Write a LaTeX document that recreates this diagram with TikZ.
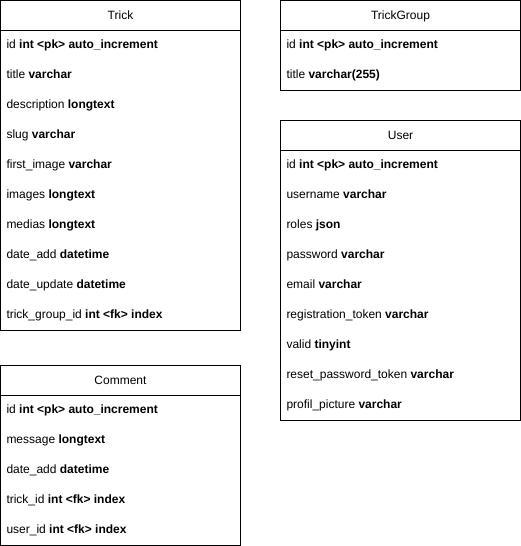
\documentclass[tikz,border=0pt]{standalone}
\usepackage{fontspec}
\setmainfont{Liberation Sans}
\begin{document}
\begin{tikzpicture}[x=0.75pt, y=-0.75pt, line width=0.75pt] % 1 px = 0.75pt
\tikzstyle{tbl} = [draw=black, fill=white] % рамка таблицы
\tikzstyle{hdr} = [anchor=base, inner sep=0pt, font=\fontsize{9}{11}\selectfont] % заголовок таблицы
\tikzstyle{fld} = [anchor=base west, inner sep=0pt, font=\fontsize{9}{11}\selectfont] % строка поля
\useasboundingbox (0,0) rectangle (521,546);
% Trick
\draw[tbl] (0.5,0.5) rectangle (240.5,330.5);
\draw (0.5,30.5) -- (240.5,30.5);
\node[hdr] (trick) at (120.5,19.5) {Trick};
\node[fld] (trick-id) at (6,48.5) {id \textbf{int <pk> auto\_increment}};
\node[fld] (trick-title) at (6,78.5) {title \textbf{varchar}};
\node[fld] (trick-desc) at (6,108.5) {description \textbf{longtext}};
\node[fld] (trick-slug) at (6,138.5) {slug \textbf{varchar}};
\node[fld] (trick-img) at (6,168.5) {first\_image \textbf{varchar}};
\node[fld] (trick-images) at (6,198.5) {images \textbf{longtext}};
\node[fld] (trick-medias) at (6,228.5) {medias \textbf{longtext}};
\node[fld] (trick-add) at (6,258.5) {date\_add \textbf{datetime}};
\node[fld] (trick-upd) at (6,288.5) {date\_update \textbf{datetime}};
\node[fld] (trick-grp) at (6,318.5) {trick\_group\_id \textbf{int <fk> index}};
% TrickGroup
\draw[tbl] (280.5,0.5) rectangle (520.5,90.5);
\draw (280.5,30.5) -- (520.5,30.5);
\node[hdr] (group) at (400.5,19.5) {TrickGroup};
\node[fld] (group-id) at (286,48.5) {id \textbf{int <pk> auto\_increment}};
\node[fld] (group-title) at (286,78.5) {title \textbf{varchar(255)}};
% User
\draw[tbl] (280.5,120.5) rectangle (520.5,420.5);
\draw (280.5,150.5) -- (520.5,150.5);
\node[hdr] (user) at (400.5,139.5) {User};
\node[fld] (user-id) at (286,168.5) {id \textbf{int <pk> auto\_increment}};
\node[fld] (user-name) at (286,198.5) {username \textbf{varchar}};
\node[fld] (user-roles) at (286,228.5) {roles \textbf{json}};
\node[fld] (user-pass) at (286,258.5) {password \textbf{varchar}};
\node[fld] (user-mail) at (286,288.5) {email \textbf{varchar}};
\node[fld] (user-reg) at (286,318.5) {registration\_token \textbf{varchar}};
\node[fld] (user-valid) at (286,348.5) {valid \textbf{tinyint}};
\node[fld] (user-reset) at (286,378.5) {reset\_password\_token \textbf{varchar}};
\node[fld] (user-pic) at (286,408.5) {profil\_picture \textbf{varchar}};
% Comment
\draw[tbl] (0.5,365.5) rectangle (240.5,545.5);
\draw (0.5,395.5) -- (240.5,395.5);
\node[hdr] (comment) at (120.5,384.5) {Comment};
\node[fld] (comment-id) at (6,413.5) {id \textbf{int <pk> auto\_increment}};
\node[fld] (comment-msg) at (6,443.5) {message \textbf{longtext}};
\node[fld] (comment-add) at (6,473.5) {date\_add \textbf{datetime}};
\node[fld] (comment-trick) at (6,503.5) {trick\_id \textbf{int <fk> index}};
\node[fld] (comment-user) at (6,533.5) {user\_id \textbf{int <fk> index}};
\end{tikzpicture}
\end{document}
